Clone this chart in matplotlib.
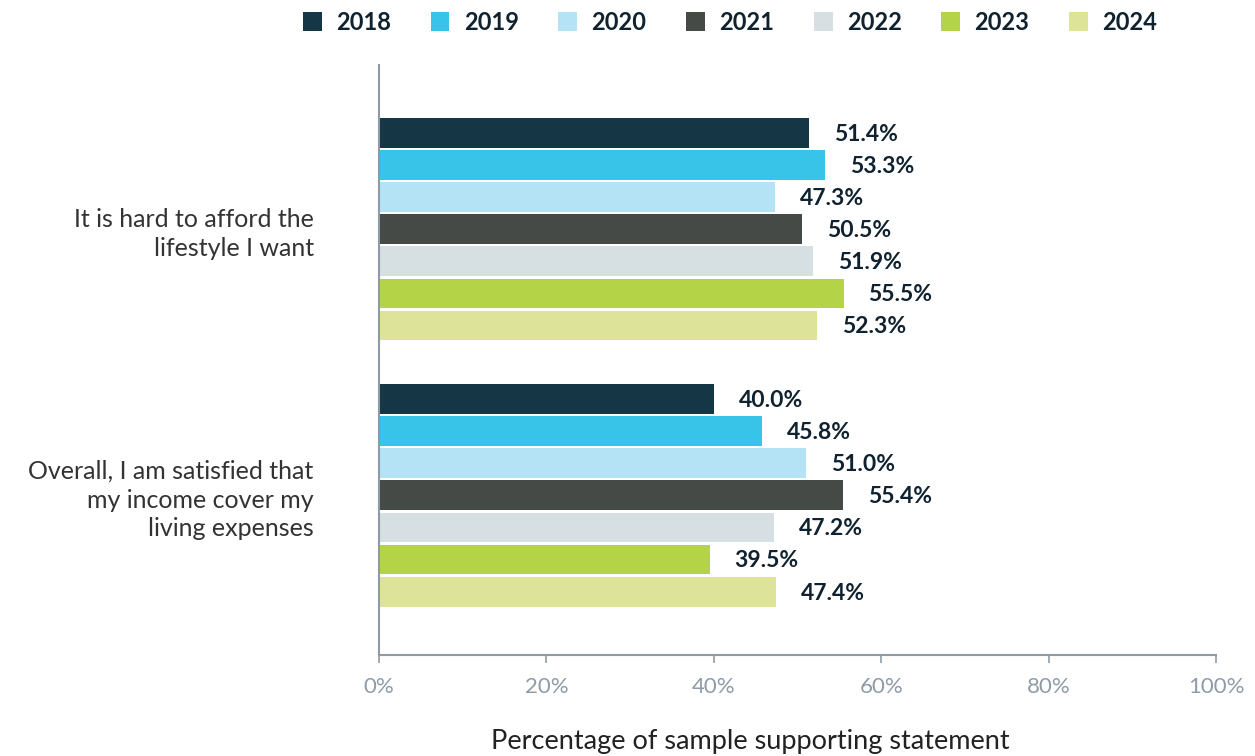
import numpy as np
import matplotlib.pyplot as plt
from matplotlib.patches import Patch

# Survey results by year
statements = ["It is hard to afford the\nlifestyle I want",
              "Overall, I am satisfied that\nmy income cover my\nliving expenses"]
years = ["2018", "2019", "2020", "2021", "2022", "2023", "2024"]
hard_to_afford = [51.4, 53.3, 47.3, 50.5, 51.9, 55.5, 52.3]
income_covers = [40.0, 45.8, 51.0, 55.4, 47.2, 39.5, 47.4]
colors = ["#153645", "#38C4E9", "#B3E3F5", "#464A46", "#D6DFE2", "#B5D346", "#DDE49A"]

plt.rcParams['font.family'] = ['Lato', 'DejaVu Sans']

fig = plt.figure(figsize=(12.55, 7.56), dpi=100)
ax = fig.add_axes([379 / 1255, 1 - 655 / 756, (1216 - 379) / 1255, (655 - 65) / 756])

values = np.array([hard_to_afford, income_covers])
pitch = 0.1207
height = 0.112
offsets = (np.arange(len(years)) - 3) * pitch

for i, year in enumerate(years):
    ypos = np.arange(len(statements)) + offsets[i]
    bars = ax.barh(ypos, values[:, i], height=height, color=colors[i], label=year)
    for b, v in zip(bars, values[:, i]):
        ax.annotate(f"{v:.1f}%", (v, b.get_y() + b.get_height() / 2),
                    xytext=(18, -1), textcoords="offset points",
                    ha="left", va="center", fontsize=16.5, fontweight="bold",
                    color="#10222F")

ax.set_xlim(0, 100)
ax.set_ylim(1.6, -0.617)
ax.set_xticks(np.arange(0, 101, 20))
ax.set_xticklabels([f"{t}%" for t in range(0, 101, 20)])
ax.set_yticks(np.arange(len(statements)))
ax.set_yticklabels(statements, fontsize=18, color="#333333", linespacing=1.3)

axis_color = "#8E9BA6"
for side in ["top", "right"]:
    ax.spines[side].set_visible(False)
ax.spines["left"].set_color(axis_color)
ax.spines["bottom"].set_color(axis_color)
ax.spines["left"].set_linewidth(1.5)
ax.spines["bottom"].set_linewidth(1.5)
ax.tick_params(axis="x", colors=axis_color, labelsize=16, length=6, width=1.2, pad=10)
ax.tick_params(axis="y", length=0, pad=47)

fig.text(750 / 1255, 1 - 741 / 756, "Percentage of sample supporting statement",
         ha="center", va="center", fontsize=19.5, color="#222222")

handles = [Patch(facecolor=c, label=y) for c, y in zip(colors, years)]
fig.legend(handles=handles, loc="center", bbox_to_anchor=(730 / 1255, 1 - 22 / 756),
           ncol=7, frameon=False, handlelength=0.8, handleheight=0.85,
           handletextpad=0.6, columnspacing=1.68,
           prop={"weight": "bold", "size": 17})
for t in fig.legends[0].get_texts():
    t.set_color("#10222F")

fig.savefig("out.png", dpi=100)
